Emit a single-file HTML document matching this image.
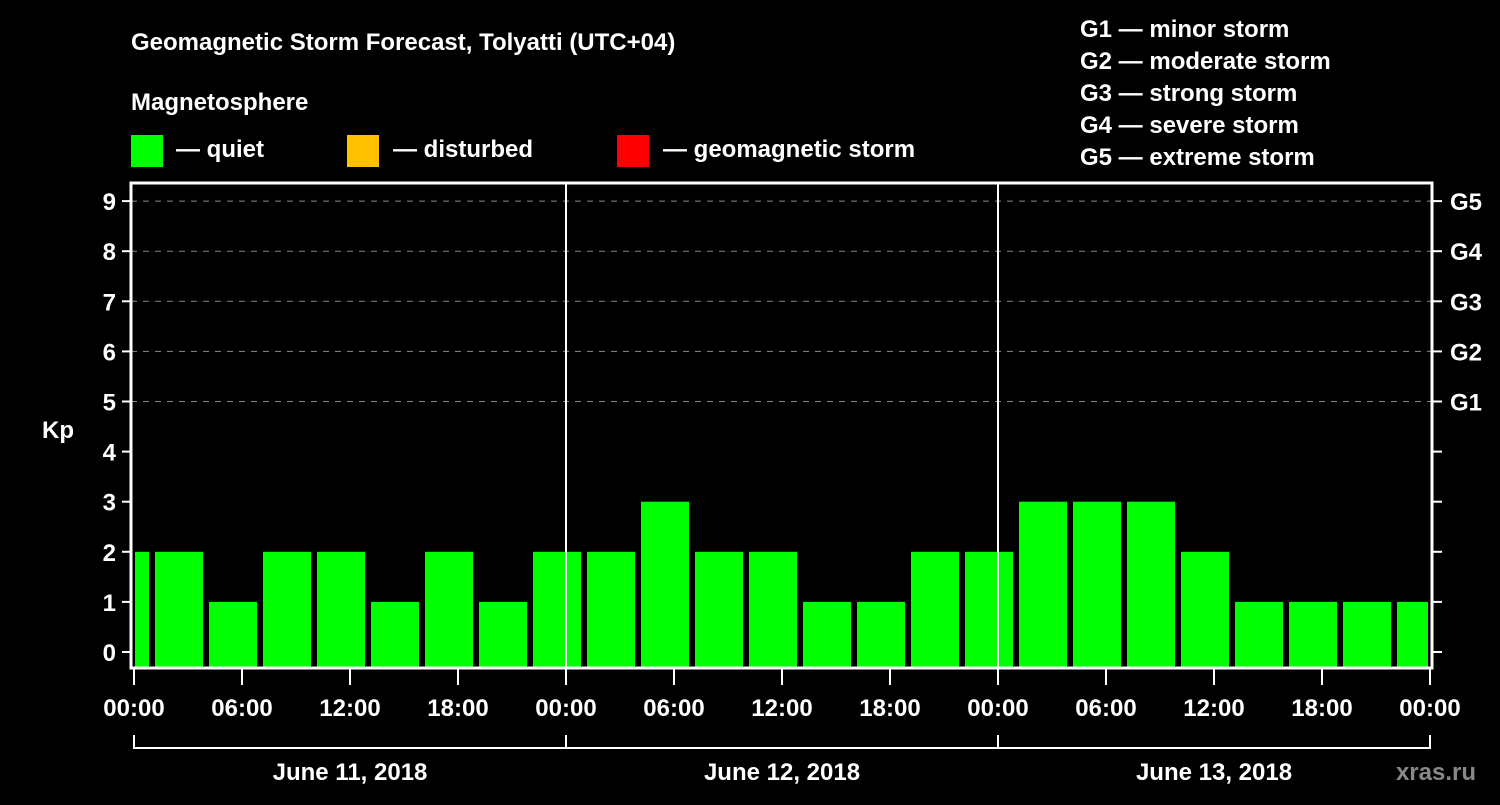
<!DOCTYPE html>
<html><head><meta charset="utf-8"><style>
body{margin:0;background:#000;width:1500px;height:800px;overflow:hidden}
svg text{font-family:"Liberation Sans",Arial,sans-serif;font-weight:bold;fill:#fff}
</style></head><body>
<svg width="1500" height="800" id="chart">
<text x="131" y="50" font-size="24">Geomagnetic Storm Forecast, Tolyatti (UTC+04)</text>
<text x="131" y="110" font-size="24">Magnetosphere</text>
<g><rect x="131" y="135" width="32" height="32" fill="#00ff00"/><text x="176" y="157" font-size="24">— quiet</text></g>
<g><rect x="347" y="135" width="32" height="32" fill="#ffc000"/><text x="393" y="157" font-size="24">— disturbed</text></g>
<g><rect x="617" y="135" width="32" height="32" fill="#ff0000"/><text x="663" y="157" font-size="24">— geomagnetic storm</text></g>
<g font-size="24">
<text x="1080" y="37">G1 — minor storm</text>
<text x="1080" y="69">G2 — moderate storm</text>
<text x="1080" y="101">G3 — strong storm</text>
<text x="1080" y="133">G4 — severe storm</text>
<text x="1080" y="165">G5 — extreme storm</text>
</g>
<text x="42" y="438" font-size="24">Kp</text>
<text x="1476" y="780" font-size="24" text-anchor="end" fill="#888" style="fill:#888">xras.ru</text>
<g id="marks"></g>
</svg>
<script>
const kpValues=[2,2,1,2,2,1,2,1,2,2,3,2,2,1,1,2,2,3,3,3,2,1,1,1,1];
const startHour=-2;
const stepHours=3;
const yTicks=[0,1,2,3,4,5,6,7,8,9];
const gLabels=["G1","G2","G3","G4","G5"];
const xTickLabels=["00:00","06:00","12:00","18:00","00:00","06:00","12:00","18:00","00:00","06:00","12:00","18:00","00:00"];
const dayLabels=["June 11, 2018","June 12, 2018","June 13, 2018"];
const NS="http://www.w3.org/2000/svg";
const g=document.getElementById('marks');
const X0=134,PXH=18,Y0=652,PXU=50.1;
const L=131,R=1432,T=183,B=668;
const x=h=>X0+h*PXH, y=v=>Y0-v*PXU;
function mk(t,a,txt){const e=document.createElementNS(NS,t);for(const k in a)e.setAttribute(k,a[k]);if(txt!==undefined)e.textContent=txt;g.appendChild(e);return e;}
yTicks.forEach(v=>{
 if(v>=5){const e=mk('line',{x1:L,x2:R,y1:y(v),y2:y(v),stroke:'#888','stroke-dasharray':'6,6','stroke-width':1});
 }
 const t=mk('line',{x1:122,x2:L,y1:y(v),y2:y(v),stroke:'#fff','stroke-width':2});
 
 const t2=mk('line',{x1:R,x2:1442,y1:y(v),y2:y(v),stroke:'#fff','stroke-width':2});
 
 const l=mk('text',{x:116,y:y(v)+9,'font-size':24,'text-anchor':'end'},String(v));
 
});
gLabels.forEach((s,i)=>{const l=mk('text',{x:1450,y:y(5+i)+9,'font-size':24},s);
 });
kpValues.forEach((v,i)=>{
 const h=startHour+i*stepHours;
 let a=x(h)+3,b=x(h+stepHours)-3;
 a=Math.max(a,x(0)+1);b=Math.min(b,R-4);
 const c=v>=5?'#ff0000':(v>=4?'#ffc000':'#00ff00');
 const r=mk('rect',{x:a,y:y(v),width:b-a,height:B-y(v),fill:c});
 
});
[1,2].forEach(d=>{const e=mk('line',{x1:x(d*24),x2:x(d*24),y1:T,y2:B,stroke:'#fff','stroke-width':2});
 });
const f=mk('rect',{x:L,y:T,width:R-L,height:B-T,fill:'none',stroke:'#fff','stroke-width':3});

xTickLabels.forEach((s,i)=>{const xx=x(i*6);
 const t=mk('line',{x1:xx,x2:xx,y1:B,y2:685,stroke:'#fff','stroke-width':2});
 
 const l=mk('text',{x:xx,y:716,'font-size':24,'text-anchor':'middle'},s);
 });
const br=mk('polyline',{points:`${x(0)},735 ${x(0)},748 ${x(72)},748 ${x(72)},735`,fill:'none',stroke:'#fff','stroke-width':2});

dayLabels.forEach((s,i)=>{
 if(i>0){const t=mk('line',{x1:x(i*24),x2:x(i*24),y1:735,y2:748,stroke:'#fff','stroke-width':2});
 }
 const l=mk('text',{x:x(i*24+12),y:780,'font-size':24,'text-anchor':'middle'},s);
 });
</script>
</body></html>
